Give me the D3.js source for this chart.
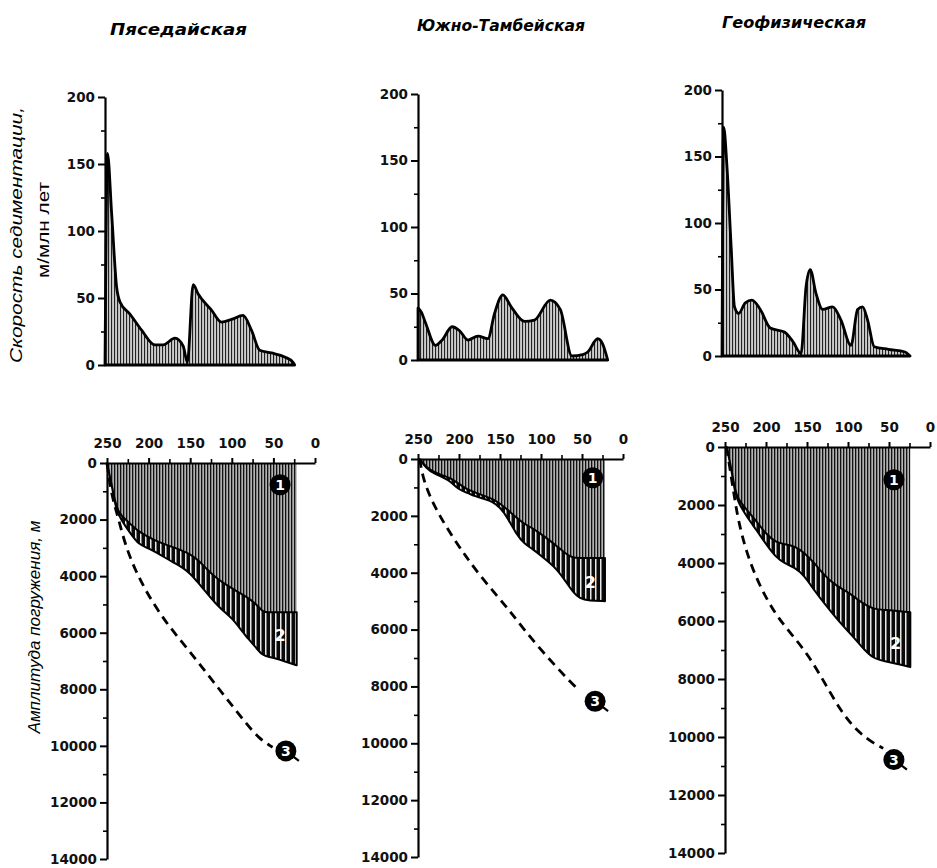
<!DOCTYPE html>
<html>
<head>
<meta charset="utf-8">
<script src="https://cdnjs.cloudflare.com/ajax/libs/d3/7.8.5/d3.min.js"></script>
<style>
  body { margin: 0; background: #fff; }
  svg { display: block; }
</style>
</head>
<body>
<script>
// ---- data ----
const wells = ['Пяседайская', 'Южно-Тамбейская', 'Геофизическая'];
const ageTicks = [250, 200, 150, 100, 50, 0];
const ageMinor = [225, 175, 125, 75, 25];
const rateTicks = [0, 50, 100, 150, 200];
const rateMinor = [25, 75, 125, 175];
const depthTicks = [0, 2000, 4000, 6000, 8000, 10000, 12000, 14000];
const depthMinor = [1000, 3000, 5000, 7000, 9000, 11000, 13000];

// sedimentation rate (m/Ma) vs age (Ma)
const rateAge1 = [250, 247, 242, 236, 232, 220, 206, 190, 180, 166, 156, 151, 144, 138, 122, 110, 98, 84, 74, 64, 50, 34, 24, 22];
const rate1    = [0, 158, 113, 58, 47, 38, 26, 15, 15, 20, 14, 2, 60, 53, 41, 32, 34, 37, 26, 11, 9, 6, 2, 0];
const rateAge2 = [250, 246, 241, 229, 221, 209, 200, 190, 178, 166, 158, 148, 138, 122, 110, 91, 79, 65, 52, 46, 34, 28, 22];
const rate2    = [39, 36, 28, 11, 15, 25, 22, 15, 18, 16, 35, 49, 40, 29, 30, 45, 38, 3, 4, 6, 16, 12, 0];
const rateAge3 = [250, 248, 244, 239, 235, 230, 222, 214, 204, 192, 175, 165, 155, 149, 144, 137, 129, 117, 107, 95, 87, 81, 75, 67, 50, 30, 24];
const rate3    = [0, 172, 142, 82, 37, 32, 40, 42, 35, 21, 18, 11, 2, 52, 65, 47, 35, 37, 27, 8, 35, 37, 27, 7, 5, 3, 0];

// subsidence amplitude (m): top of zone 2 / bottom of zone 2
const subAge1 = [250, 244, 240, 236, 228, 220, 212, 200, 190, 180, 170, 160, 150, 140, 130, 120, 110, 100, 90, 80, 70, 63, 55, 47, 35, 22];
const subTop1 = [0, 820, 1400, 1750, 2000, 2200, 2420, 2620, 2770, 2880, 2980, 3100, 3220, 3440, 3750, 4030, 4240, 4430, 4600, 4780, 5000, 5270, 5280, 5280, 5280, 5280];
const subBot1 = [0, 840, 1500, 1850, 2230, 2560, 2870, 3020, 3180, 3350, 3520, 3680, 3900, 4250, 4600, 4950, 5240, 5480, 5850, 6230, 6560, 6800, 6860, 6910, 7030, 7150];
const subAge2 = [248, 240, 230, 220, 210, 200, 190, 180, 170, 160, 150, 140, 130, 120, 110, 100, 90, 80, 70, 61, 53, 41, 22];
const subTop2 = [0, 290, 460, 580, 670, 880, 1070, 1180, 1290, 1395, 1560, 1800, 2060, 2290, 2440, 2640, 2850, 3080, 3330, 3480, 3480, 3480, 3480];
const subBot2 = [0, 330, 520, 640, 790, 1090, 1190, 1310, 1400, 1490, 1690, 2100, 2650, 2990, 3170, 3400, 3640, 3900, 4300, 4680, 4910, 4990, 5000];
const subAge3 = [248, 242, 238, 234, 224, 212, 200, 188, 177, 165, 153, 141, 129, 117, 105, 97, 89, 81, 69, 55, 40, 24];
const subTop3 = [0, 780, 1460, 1800, 2150, 2550, 3000, 3290, 3350, 3420, 3650, 4000, 4420, 4730, 4930, 5070, 5240, 5410, 5590, 5620, 5650, 5700];
const subBot3 = [0, 800, 1560, 1900, 2380, 2850, 3350, 3800, 4020, 4150, 4440, 4950, 5390, 5810, 6200, 6440, 6700, 6960, 7300, 7390, 7480, 7590];

// curve 3 (dashed)
const dashAge1 = [250, 246, 240, 236, 228, 216, 200, 179, 155, 131, 107, 83, 67, 51];
const dash1    = [0, 900, 1600, 2000, 2900, 3800, 4700, 5650, 6500, 7400, 8300, 9200, 9750, 10050];
const dashAge2 = [248, 244, 236, 224, 207, 191, 175, 154, 138, 122, 102, 81, 65, 53];
const dash2    = [0, 660, 1290, 1980, 2780, 3450, 4080, 4800, 5350, 5950, 6650, 7320, 7820, 8150];
const dashAge3 = [248, 242, 238, 234, 224, 208, 188, 169, 149, 129, 109, 89, 69, 57];
const dash3    = [0, 1120, 1810, 2500, 3640, 4790, 5800, 6450, 7150, 8100, 9100, 9800, 10220, 10390];

const zip = (a, b) => a.map((v, i) => [v, b[i]]);
const rates = [zip(rateAge1, rate1), zip(rateAge2, rate2), zip(rateAge3, rate3)];
const subs = [
  subAge1.map((a, i) => [a, subTop1[i], subBot1[i]]),
  subAge2.map((a, i) => [a, subTop2[i], subBot2[i]]),
  subAge3.map((a, i) => [a, subTop3[i], subBot3[i]])
];
const dashes = [zip(dashAge1, dash1), zip(dashAge2, dash2), zip(dashAge3, dash3)];

// ---- layout (pixels) ----
const layout = [
  { tx: 105, ty0: 365, ty1: 97, bx: 107, bx1: 315, by0: 463, by1: 859, title: [110, 35, 137] },
  { tx: 418, ty0: 360, ty1: 94, bx: 418, bx1: 623, by0: 459, by1: 857, title: [417, 31, 168] },
  { tx: 722, ty0: 356, ty1: 90, bx: 725, bx1: 930, by0: 447, by1: 853, title: [722, 28, 144] }
];
// label anchors (age, depth) for marks 1, 2, 3
const marks = [
  [[42, 770], [42, 6100], [35, 10180]],
  [[37, 660], [40, 4330], [34, 8520]],
  [[44, 1130], [42, 6760], [44, 10780]]
];

const W = 937, H = 868;
const svg = d3.select('body').append('svg').attr('width', W).attr('height', H);
const defs = svg.append('defs');

// vertical hatching patterns
function hatch(id, w, bg, fg, lw){
  const p = defs.append('pattern').attr('id', id).attr('patternUnits', 'userSpaceOnUse')
    .attr('width', w).attr('height', 10);
  p.append('rect').attr('width', w).attr('height', 10).attr('fill', bg);
  p.append('rect').attr('width', lw).attr('height', 10).attr('fill', fg);
}
hatch('hTop', 3, '#cdcdcd', '#222', 1.1);
hatch('hOne', 3, '#b2b2b2', '#111', 1.3);
hatch('hTwo', 5, '#0a0a0a', '#e8e8e8', 1.5);

const tickFont = g => g.attr('font-family', '"DejaVu Sans", sans-serif')
  .attr('font-weight', 'bold').attr('font-size', 13.5)
  .call(s => s.selectAll('text').attr('fill', '#111'))
  .call(s => s.selectAll('line').attr('stroke', '#000').attr('stroke-width', 2))
  .call(s => s.select('.domain').attr('stroke', '#000').attr('stroke-width', 2.2));

layout.forEach((L, i) => {
  const g = svg.append('g');

  // title
  g.append('text').attr('x', L.title[0]).attr('y', L.title[1])
    .attr('font-family', '"DejaVu Sans", sans-serif').attr('font-weight', 'bold')
    .attr('font-style', 'italic').attr('font-size', 16)
    .attr('textLength', L.title[2]).attr('lengthAdjust', 'spacingAndGlyphs')
    .text(wells[i]);

  // ---- upper chart: sedimentation rate ----
  const xt = d3.scaleLinear().domain([250, 0]).range([L.tx, L.tx + 208]);
  const yt = d3.scaleLinear().domain([0, 200]).range([L.ty0, L.ty1]);

  const area = d3.area().x(d => xt(d[0])).y0(yt(0)).y1(d => yt(d[1])).curve(d3.curveMonotoneX);
  g.append('path').datum(rates[i]).attr('d', area)
    .attr('fill', 'url(#hTop)').attr('stroke', '#000').attr('stroke-width', 2.8)
    .attr('stroke-linejoin', 'round');

  g.append('g').attr('transform', `translate(${L.tx},0)`)
    .call(d3.axisLeft(yt).tickValues(rateTicks).tickSize(7).tickSizeOuter(0).tickPadding(3))
    .call(tickFont);
  g.append('g').attr('transform', `translate(${L.tx},0)`)
    .call(d3.axisLeft(yt).tickValues(rateMinor).tickSize(4).tickFormat(''))
    .call(s => s.select('.domain').remove())
    .call(s => s.selectAll('line').attr('stroke', '#000').attr('stroke-width', 1.6));

  // ---- lower chart: subsidence ----
  const xb = d3.scaleLinear().domain([250, 0]).range([L.bx, L.bx1]);
  const yb = d3.scaleLinear().domain([0, 14000]).range([L.by0, L.by1]);

  const zone1 = d3.area().x(d => xb(d[0])).y0(yb(0)).y1(d => yb(d[1])).curve(d3.curveBasis);
  const zone2 = d3.area().x(d => xb(d[0])).y0(d => yb(d[1])).y1(d => yb(d[2])).curve(d3.curveBasis);
  g.append('path').datum(subs[i]).attr('d', zone1).attr('fill', 'url(#hOne)');
  g.append('path').datum(subs[i]).attr('d', zone2)
    .attr('fill', 'url(#hTwo)').attr('stroke', '#000').attr('stroke-width', 2)
    .attr('stroke-linejoin', 'round');

  const line = d3.line().x(d => xb(d[0])).y(d => yb(d[1])).curve(d3.curveBasis);
  g.append('path').datum(dashes[i]).attr('d', line)
    .attr('fill', 'none').attr('stroke', '#000').attr('stroke-width', 2.8)
    .attr('stroke-dasharray', '9,6');

  g.append('g').attr('transform', `translate(${L.bx},0)`)
    .call(d3.axisLeft(yb).tickValues(depthTicks).tickSize(7).tickSizeOuter(0).tickPadding(3).tickFormat(d3.format('d')))
    .call(tickFont);
  g.append('g').attr('transform', `translate(${L.bx},0)`)
    .call(d3.axisLeft(yb).tickValues(depthMinor).tickSize(4).tickFormat(''))
    .call(s => s.select('.domain').remove())
    .call(s => s.selectAll('line').attr('stroke', '#000').attr('stroke-width', 1.6));

  g.append('g').attr('transform', `translate(0,${L.by0})`)
    .call(d3.axisTop(xb).tickValues(ageTicks).tickSize(5).tickSizeOuter(0).tickPadding(10))
    .call(tickFont);
  g.append('g').attr('transform', `translate(0,${L.by0})`)
    .call(d3.axisTop(xb).tickValues(ageMinor).tickSize(4).tickFormat(''))
    .call(s => s.select('.domain').remove())
    .call(s => s.selectAll('line').attr('stroke', '#000').attr('stroke-width', 1.6));

  // numbered marks
  marks[i].forEach((m, k) => {
    const cx = xb(m[0]), cy = yb(m[1]);
    if (k === 2) {
      g.append('line').attr('x1', cx).attr('y1', cy).attr('x2', cx + 13).attr('y2', cy + 10)
        .attr('stroke', '#000').attr('stroke-width', 2.2);
    }
    if (k !== 1) {
      g.append('circle').attr('cx', cx).attr('cy', cy).attr('r', 10.5).attr('fill', '#000');
    }
    g.append('text').attr('x', cx).attr('y', cy).attr('dy', '0.36em')
      .attr('text-anchor', 'middle')
      .attr('font-family', '"DejaVu Sans", sans-serif').attr('font-weight', 'bold')
      .attr('font-size', k === 1 ? 16 : 14).attr('fill', '#fff')
      .text(k + 1);
  });
});

// axis titles
svg.append('text').attr('transform', 'translate(22,235) rotate(-90)')
  .attr('text-anchor', 'middle').attr('font-family', '"Liberation Sans", Arial, sans-serif')
  .attr('font-style', 'italic').attr('font-size', 17)
  .attr('textLength', 256).attr('lengthAdjust', 'spacingAndGlyphs')
  .text('Скорость седиментации,');
svg.append('text').attr('transform', 'translate(49,230) rotate(-90)')
  .attr('text-anchor', 'middle').attr('font-family', '"Liberation Sans", Arial, sans-serif')
  .attr('font-size', 16)
  .attr('textLength', 96).attr('lengthAdjust', 'spacingAndGlyphs')
  .text('м/млн лет');
svg.append('text').attr('transform', 'translate(40,627) rotate(-90)')
  .attr('text-anchor', 'middle').attr('font-family', '"Liberation Sans", Arial, sans-serif')
  .attr('font-style', 'italic').attr('font-size', 17)
  .attr('textLength', 213).attr('lengthAdjust', 'spacingAndGlyphs')
  .text('Амплитуда погружения,  м');
</script>
</body>
</html>
